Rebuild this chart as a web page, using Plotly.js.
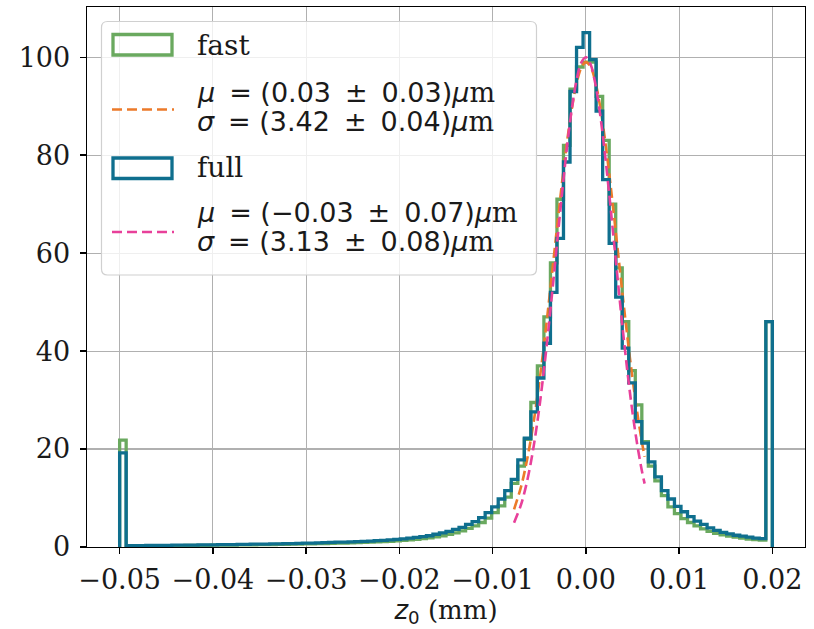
<!DOCTYPE html>
<html>
<head>
<meta charset="utf-8">
<script src="https://cdn.plot.ly/plotly-3.0.1.min.js"></script>
<style>html,body{margin:0;padding:0;background:#fff;}#chart{width:814px;height:629px;}</style>
</head>
<body>
<div id="chart"></div>
<script>
// ---- data ----
// histogram range
const binLow = -0.05;
const binHigh = 0.02;

// counts per bin, "fast" reconstruction (100 bins)
const fastCounts = [
  21.8, 0.25, 0.25, 0.25, 0.3, 0.3, 0.3, 0.3, 0.3, 0.3,
  0.35, 0.35, 0.35, 0.35, 0.4, 0.4, 0.4, 0.4, 0.45, 0.45,
  0.45, 0.5, 0.5, 0.5, 0.55, 0.55, 0.6, 0.6, 0.65, 0.65,
  0.7, 0.7, 0.75, 0.8, 0.8, 0.85, 0.9, 0.95, 1.0, 1.05,
  1.1, 1.15, 1.25, 1.35, 1.45, 1.55, 1.7, 1.85, 2.05, 2.3,
  2.6, 2.9, 3.3, 3.8, 4.3, 5.0, 5.9, 7.0, 8.4, 10.2,
  13.0, 16.5, 22.0, 29.5, 37.0, 47.0, 58.0, 71.0, 82.0, 93.5,
  98.0, 99.0, 99.0, 92.0, 83.0, 70.0, 57.0, 46.0, 36.0, 29.0,
  21.5, 16.5, 13.5, 10.5, 8.2, 6.8, 5.8, 5.0, 4.3, 3.7,
  3.2, 2.8, 2.5, 2.2, 2.0, 1.8, 1.6, 1.5, 1.4, 46.0
];

// counts per bin, "full" reconstruction (100 bins)
const fullCounts = [
  19.2, 0.3, 0.3, 0.3, 0.35, 0.35, 0.35, 0.35, 0.4, 0.4,
  0.4, 0.4, 0.45, 0.45, 0.45, 0.5, 0.5, 0.5, 0.55, 0.55,
  0.6, 0.6, 0.6, 0.65, 0.65, 0.7, 0.7, 0.75, 0.8, 0.8,
  0.85, 0.9, 0.95, 1.0, 1.0, 1.05, 1.1, 1.15, 1.2, 1.3,
  1.35, 1.45, 1.55, 1.65, 1.8, 1.95, 2.1, 2.3, 2.6, 2.9,
  3.2, 3.6, 4.0, 4.6, 5.2, 6.0, 7.0, 8.2, 9.8, 11.5,
  13.8, 17.8, 22.2, 27.6, 34.5, 41.6, 52.0, 63.0, 78.6, 93.0,
  102.0, 105.0, 99.5, 89.0, 75.0, 62.0, 51.0, 40.6, 33.5, 25.6,
  21.2, 17.4, 14.3, 11.5, 9.8, 8.3, 7.2, 6.2, 5.3, 4.6,
  3.9, 3.4, 3.0, 2.7, 2.4, 2.2, 2.0, 1.8, 1.7, 46.0
];

// fitted curves, sampled (x in mm)
const fitX = [-0.0077, -0.0070, -0.0065, -0.0060, -0.0055, -0.0050, -0.0045, -0.0040, -0.0035, -0.0030,
  -0.0025, -0.0020, -0.0015, -0.0010, -0.0005, 0.0, 0.0005, 0.0010, 0.0015, 0.0020,
  0.0025, 0.0030, 0.0035, 0.0040, 0.0045, 0.0050, 0.0055, 0.0060, 0.0063];
const fastFitY = [7.70, 11.97, 15.99, 20.92, 26.79, 33.56, 41.17, 49.44, 58.11, 66.86,
  75.30, 83.01, 89.58, 94.61, 97.82, 99.00, 98.07, 95.10, 90.27, 83.87,
  76.27, 67.91, 59.17, 50.47, 42.14, 34.44, 27.55, 21.57, 18.44];
const fullFitY = [4.97, 8.38, 11.81, 16.22, 21.72, 28.35, 36.07, 44.73, 54.09, 63.75,
  73.24, 82.03, 89.56, 95.31, 98.88, 100.00, 98.58, 94.73, 88.74, 81.03,
  72.13, 62.59, 52.94, 43.65, 35.09, 27.49, 21.00, 15.63, 12.94];

// labels
const seriesNames = ['fast', 'full'];
const M = '<span style="font-family:\'DejaVu Serif\'">m</span>';
const T = '\u2009';
const fastFitLabel = ['<i>μ</i> ' + T + '= (0.03' + T + ' ± ' + T + '0.03)<i>μ</i>' + M,
                      '<i>σ</i> ' + T + '= (3.42' + T + ' ± ' + T + '0.04)<i>μ</i>' + M];
const fullFitLabel = ['<i>μ</i> ' + T + '= (−0.03' + T + ' ± ' + T + '0.07)<i>μ</i>' + M,
                      '<i>σ</i> ' + T + '= (3.13' + T + ' ± ' + T + '0.08)<i>μ</i>' + M];
const xTickVals = [-0.05, -0.04, -0.03, -0.02, -0.01, 0.0, 0.01, 0.02];
const xTickText = ['−0.05', '−0.04', '−0.03', '−0.02', '−0.01', '0.00', '0.01', '0.02'];
const yTickVals = [0, 20, 40, 60, 80, 100];
const yTickText = ['0', '20', '40', '60', '80', '100'];

// ---- build ----
const COL_FAST = '#6aa95f';
const COL_FULL = '#0f6f8e';
const COL_FASTFIT = '#ec7a2a';
const COL_FULLFIT = '#e8409a';
const TXT = '#1a1a1a';

function stepTrace(counts, color) {
  const n = counts.length;
  const w = (binHigh - binLow) / n;
  const xs = [binLow], ys = [0];
  for (let i = 0; i < n; i++) { xs.push(binLow + i * w); ys.push(counts[i]); }
  xs.push(binHigh); ys.push(counts[n - 1]);
  xs.push(binHigh); ys.push(0);
  return {x: xs, y: ys, type: 'scatter', mode: 'lines',
          line: {shape: 'hv', color: color, width: 3.3}, hoverinfo: 'skip', showlegend: false};
}
function fitTrace(ys, color) {
  return {x: fitX, y: ys, type: 'scatter', mode: 'lines',
          line: {shape: 'spline', color: color, width: 2.6, dash: '10px,5px'},
          hoverinfo: 'skip', showlegend: false};
}

const data = [
  stepTrace(fastCounts, COL_FAST),
  fitTrace(fastFitY, COL_FASTFIT),
  stepTrace(fullCounts, COL_FULL),
  fitTrace(fullFitY, COL_FULLFIT)
];

// pixel -> paper helpers for the legend box
const PL = 87, PR = 805, PT = 7, PB = 547;
const px = v => (v - PL) / (PR - PL);
const py = v => (PB - v) / (PB - PT);

function roundRectPath(x0, y0, x1, y1, r) {
  const X = v => px(v).toFixed(5), Y = v => py(v).toFixed(5);
  return `M${X(x0 + r)},${Y(y0)} L${X(x1 - r)},${Y(y0)} Q${X(x1)},${Y(y0)} ${X(x1)},${Y(y0 + r)} ` +
         `L${X(x1)},${Y(y1 - r)} Q${X(x1)},${Y(y1)} ${X(x1 - r)},${Y(y1)} ` +
         `L${X(x0 + r)},${Y(y1)} Q${X(x0)},${Y(y1)} ${X(x0)},${Y(y1 - r)} ` +
         `L${X(x0)},${Y(y0 + r)} Q${X(x0)},${Y(y0)} ${X(x0 + r)},${Y(y0)} Z`;
}

const shapes = [
  {type: 'path', xref: 'paper', yref: 'paper', layer: 'above',
   path: roundRectPath(101.5, 21.5, 536.5, 275, 6),
   fillcolor: 'rgba(255,255,255,0.8)', line: {color: '#d0d0d0', width: 1.2}},
  {type: 'rect', xref: 'paper', yref: 'paper', layer: 'above',
   x0: px(113), x1: px(172), y0: py(34.5), y1: py(55),
   fillcolor: 'rgba(0,0,0,0)', line: {color: COL_FAST, width: 3.3}},
  {type: 'line', xref: 'paper', yref: 'paper', layer: 'above',
   x0: px(112), x1: px(174), y0: py(109.5), y1: py(109.5),
   line: {color: COL_FASTFIT, width: 2.6, dash: '10px,5px'}},
  {type: 'rect', xref: 'paper', yref: 'paper', layer: 'above',
   x0: px(113), x1: px(172), y0: py(158), y1: py(178.5),
   fillcolor: 'rgba(0,0,0,0)', line: {color: COL_FULL, width: 3.3}},
  {type: 'line', xref: 'paper', yref: 'paper', layer: 'above',
   x0: px(112), x1: px(174), y0: py(232), y1: py(232),
   line: {color: COL_FULLFIT, width: 2.6, dash: '10px,5px'}}
];

const SERIF = "'DejaVu Serif', serif";
const SANS = "'DejaVu Sans', sans-serif";
function legText(text, yPix, fam, size) {
  return {xref: 'paper', yref: 'paper', x: px(195), y: py(yPix), xanchor: 'left', yanchor: 'middle',
          text: text, showarrow: false, font: {family: fam, size: size, color: TXT}};
}
const annotations = [
  legText(seriesNames[0], 45, SERIF, 28),
  legText(fastFitLabel[0], 92, SANS, 27),
  legText(fastFitLabel[1], 121, SANS, 27),
  legText(seriesNames[1], 167, SERIF, 28),
  legText(fullFitLabel[0], 212, SANS, 27),
  legText(fullFitLabel[1], 241, SANS, 27)
];

const layout = {
  width: 814, height: 629,
  margin: {l: PL, r: 814 - PR, t: PT, b: 629 - PB, pad: 0},
  paper_bgcolor: '#ffffff', plot_bgcolor: '#ffffff',
  showlegend: false,
  font: {family: SERIF, size: 27, color: TXT},
  xaxis: {
    range: [-0.0535, 0.0235], tickmode: 'array', tickvals: xTickVals, ticktext: xTickText,
    showgrid: true, gridcolor: '#b0b0b0', gridwidth: 1.1, zeroline: false,
    showline: true, mirror: true, linecolor: '#000', linewidth: 1.4,
    ticks: 'outside', ticklen: 6, tickwidth: 1.4, tickcolor: '#000',
    ticklabelstandoff: 2,
    tickfont: {family: SERIF, size: 27, color: TXT},
    title: {text: '<span style="font-family:\'DejaVu Sans\'"><i>z</i><sub>0</sub></span> (mm)',
            font: {family: SERIF, size: 26, color: TXT}, standoff: 6}
  },
  yaxis: {
    range: [0, 110.25], tickmode: 'array', tickvals: yTickVals, ticktext: yTickText,
    showgrid: true, gridcolor: '#b0b0b0', gridwidth: 1.1, zeroline: false,
    showline: true, mirror: true, linecolor: '#000', linewidth: 1.4,
    ticks: 'outside', ticklen: 6, tickwidth: 1.4, tickcolor: '#000',
    ticklabelstandoff: 4,
    tickfont: {family: SERIF, size: 27, color: TXT}
  },
  shapes: shapes,
  annotations: annotations
};

Plotly.newPlot('chart', data, layout, {staticPlot: true, displayModeBar: false});
</script>
</body>
</html>
